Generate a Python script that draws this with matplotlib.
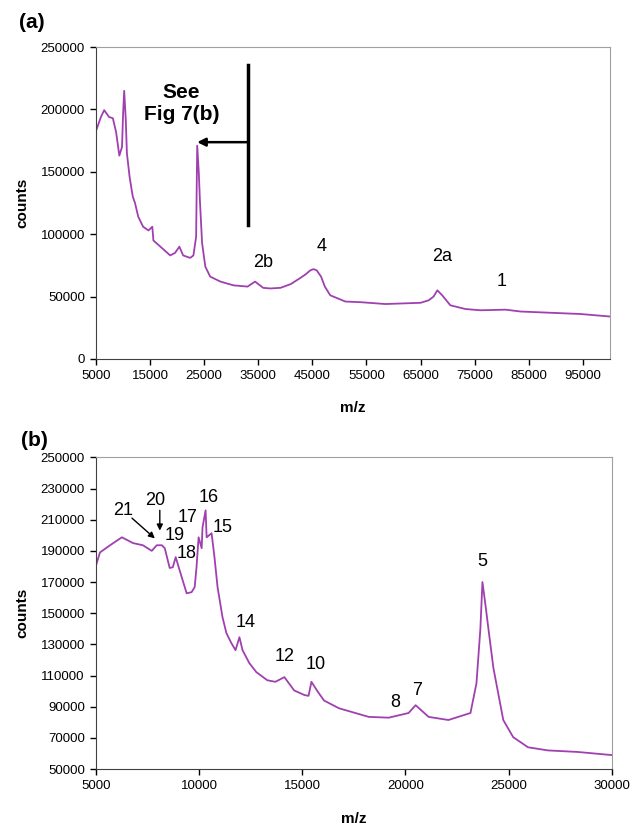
import matplotlib
matplotlib.use("Agg")
import matplotlib.pyplot as plt

plt.rcParams['font.family'] = ['Liberation Sans', 'DejaVu Sans']

# ---- panel (a): full range spectrum ----
mz_a = [5000, 5900, 6500, 7400, 8100, 8700, 9300, 9800, 10000, 10200, 10500,
        10700, 11200, 11600, 11800, 12200, 12800, 13700, 14700, 15400, 15600,
        16900, 18700, 19600, 20400, 21100, 22400, 23000, 23500, 23700, 24000,
        24200, 24600, 25200, 26100, 28000, 30400, 33000, 34400, 35900, 37200,
        39100, 41000, 42800, 43800, 44600, 45200, 45800, 46600, 47300, 48300,
        51100, 53900, 58500, 65000, 66500, 67400, 68100, 69000, 70500, 73300,
        76100, 80700, 83500, 89100, 94600, 100000]
counts_a = [183000, 194000, 199500, 194000, 193000, 182000, 163000, 170000,
            197000, 215000, 191000, 165000, 146000, 135000, 130000, 125000,
            114000, 106000, 103000, 106000, 95000, 90000, 83000, 85000, 90000,
            83000, 81000, 83000, 98000, 171000, 149000, 127000, 93000, 74000,
            66000, 62000, 59000, 58000, 62000, 57000, 56500, 57000, 60000,
            65000, 68000, 71000, 72000, 71000, 66000, 58000, 51000, 46000,
            45500, 44000, 45000, 47000, 50000, 55000, 51000, 43000, 40000,
            39000, 39500, 38000, 37000, 36000, 34000]

labels_a = ["2b", "4", "2a", "1"]
label_x_a = [35900, 46700, 68900, 80000]
label_y_a = [77700, 90500, 82500, 61700]

# ---- panel (b): zoom 5000-30000 ----
mz_b = [5000, 5190, 5680, 6250, 6790, 7270, 7700, 7940, 8190, 8330, 8570,
        8720, 8860, 9050, 9390, 9630, 9780, 9870, 9970, 10120, 10160, 10310,
        10360, 10600, 10740, 10890, 11130, 11320, 11560, 11760, 11950, 12100,
        12430, 12770, 13300, 13690, 14130, 14600, 15100, 15300, 15440, 15730,
        16050, 16780, 18220, 19190, 20150, 20490, 21120, 22080, 23150, 23440,
        23630, 23730, 23870, 24020, 24260, 24740, 25220, 25940, 26900, 28350,
        30000]
counts_b = [180800, 189000, 193600, 198700, 195000, 193600, 190000, 193600,
            193600, 191700, 179000, 179500, 186000, 177600, 162800, 163500,
            166700, 179500, 198700, 191700, 205000, 216000, 198700, 201300,
            186000, 166700, 147400, 137200, 130800, 126300, 134600, 126300,
            118000, 112200, 107000, 106000, 109000, 100500, 97500, 97000,
            106000, 100000, 94000, 89000, 83500, 83000, 86000, 91000, 83500,
            81500, 86000, 105000, 140000, 170000, 156000, 140000, 115000,
            81500, 70500, 64000, 62000, 61000, 59000]

labels_b = ["21", "20", "19", "18", "17", "16", "15", "14", "12", "10", "8", "7", "5"]
label_x_b = [6300, 7850, 8810, 9390, 9440, 10450, 11130, 12240, 14120, 15660,
             19480, 20540, 23730]
label_y_b = [216000, 222000, 200000, 188000, 211500, 224000, 205000, 144000,
             122000, 117000, 93000, 100600, 183000]

line_color = '#a040b0'

fig = plt.figure(figsize=(6.32, 8.27), dpi=100)
ax1 = fig.add_axes([0.152, 0.566, 0.813, 0.377])
ax2 = fig.add_axes([0.152, 0.070, 0.816, 0.377])


def style(ax):
    for side in ['top', 'right']:
        ax.spines[side].set_color('#a0a0a0')
    for side in ['left', 'bottom']:
        ax.spines[side].set_color('#404040')
    ax.tick_params(direction='out', length=4, width=1, pad=4, labelsize=9.5)
    ax.set_xlabel('m/z', fontsize=11, fontweight='bold', labelpad=14)
    ax.set_ylabel('counts', fontsize=11, fontweight='bold', labelpad=8)


# (a)
ax1.plot(mz_a, counts_a, color=line_color, lw=1.3)
ax1.set_xlim(5000, 100000)
ax1.set_ylim(0, 250000)
ax1.set_xticks(range(5000, 100000, 10000))
ax1.set_yticks(range(0, 250001, 50000))
style(ax1)
for t, x, y in zip(labels_a, label_x_a, label_y_a):
    ax1.text(x, y, t, fontsize=13, ha='center', va='center')
ax1.plot([33000, 33000], [107000, 235500], color='black', lw=2.5)
ax1.annotate('', xy=(23700, 173800), xytext=(33000, 173800),
             arrowprops=dict(arrowstyle='-|>', color='black', lw=1.8,
                             mutation_scale=12, shrinkA=0, shrinkB=0))
ax1.text(20800, 205000, 'See\nFig 7(b)', fontsize=15, fontweight='bold',
         ha='center', va='center', linespacing=1.2)

# (b)
ax2.plot(mz_b, counts_b, color=line_color, lw=1.3)
ax2.set_xlim(5000, 30000)
ax2.set_ylim(50000, 250000)
ax2.set_xticks(range(5000, 30001, 5000))
ax2.set_yticks(range(50000, 250001, 20000))
style(ax2)
for t, x, y in zip(labels_b, label_x_b, label_y_b):
    ax2.text(x, y, t, fontsize=13, ha='center', va='center')
ax2.annotate('', xy=(7850, 198000), xytext=(6740, 211000),
             arrowprops=dict(arrowstyle='-|>', color='black', lw=1,
                             mutation_scale=9, shrinkA=0, shrinkB=0))
ax2.annotate('', xy=(8090, 203000), xytext=(8090, 216000),
             arrowprops=dict(arrowstyle='-|>', color='black', lw=1,
                             mutation_scale=9, shrinkA=0, shrinkB=0))

fig.text(32 / 632, 1 - 23 / 827, '(a)', fontsize=15, fontweight='bold',
         ha='center', va='center')
fig.text(34 / 632, 1 - 440 / 827, '(b)', fontsize=15, fontweight='bold',
         ha='center', va='center')

fig.savefig('out.png', dpi=100)
